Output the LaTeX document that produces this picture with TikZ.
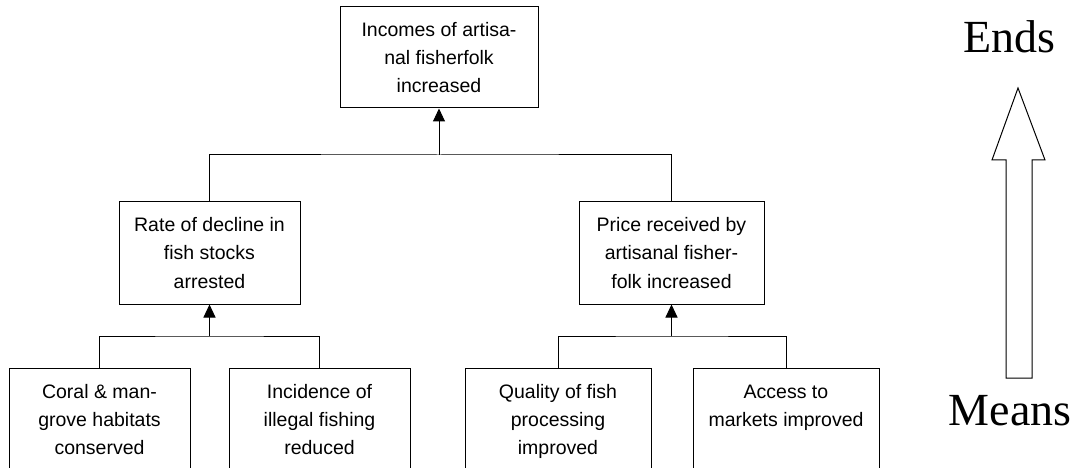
\documentclass[tikz,border=0pt]{standalone}
\usepackage{fontspec}
\setmainfont{Liberation Sans}
\newfontfamily\axisfont{Liberation Serif}
\usetikzlibrary{arrows.meta}
\begin{document}
\begin{tikzpicture}[x=1pt,y=-1pt,
  boxtext/.style={font=\fontsize{19.5}{28.3}\selectfont},
  goalbox/.style={boxtext, draw, line width=1pt, align=center, inner sep=0pt},
  leafbox/.style={boxtext, draw, line width=1pt, anchor=north, inner xsep=0pt, inner ysep=10pt},
  link/.style={line width=1pt},
  uparrow/.style={line width=1pt, -{Triangle[width=12pt,length=13pt]}},
  axislabel/.style={font=\axisfont\fontsize{46}{52}\selectfont, anchor=base, inner sep=0pt}]
\useasboundingbox (0,0) rectangle (1080,468);
\clip (0,0) rectangle (1080,468);

% goal at the top
\node[goalbox, minimum width=198pt, minimum height=101pt] (goal) at (439,57.5)
  {Incomes of artisa-\\nal fisherfolk\\increased};

% purposes
\node[goalbox, minimum width=181pt, minimum height=102pt] (rate) at (209.5,253)
  {Rate of decline in\\fish stocks\\arrested};
\node[goalbox, minimum width=185pt, minimum height=102pt] (price) at (671.5,253)
  {Price received by\\artisanal fisher-\\folk increased};

% outputs (boxes run past the lower edge)
\node[leafbox] (coral) at (99.5,368)
  {\parbox[t][130pt][t]{181pt}{\centering\strut Coral \& man-\\grove habitats\\conserved}};
\node[leafbox] (illegal) at (319.5,368)
  {\parbox[t][130pt][t]{181pt}{\centering\strut Incidence of\\illegal fishing\\reduced}};
\node[leafbox] (quality) at (558,368)
  {\parbox[t][130pt][t]{186pt}{\centering\strut Quality of fish\\processing\\improved}};
\node[leafbox] (access) at (786,368)
  {\parbox[t][130pt][t]{186pt}{\centering\strut Access to\\markets improved}};

% junctions of the tree
\coordinate (jtop) at (goal.south |- 0,155);
\coordinate (jleft) at (rate.south |- 0,336);
\coordinate (jright) at (price.south |- 0,336);

\draw[link] (rate.north) |- (jtop) -| (price.north);
\draw[uparrow] (jtop) -- (goal.south);
\draw[link] (coral.north) |- (jleft) -| (illegal.north);
\draw[uparrow] (jleft) -- (rate.south);
\draw[link] (quality.north) |- (jright) -| (access.north);
\draw[uparrow] (jright) -- (price.south);

% means-to-ends block arrow
\draw[line width=1pt, fill=white]
  (1018,88) -- (1045,160) -- (1032,160) -- (1032,378) -- (1006,378)
  -- (1006,160) -- (992,160) -- cycle;
\node[axislabel] (ends) at (1009.5,53) {Ends};
\node[axislabel] (means) at (1010,425) {Means};
\end{tikzpicture}
\end{document}
